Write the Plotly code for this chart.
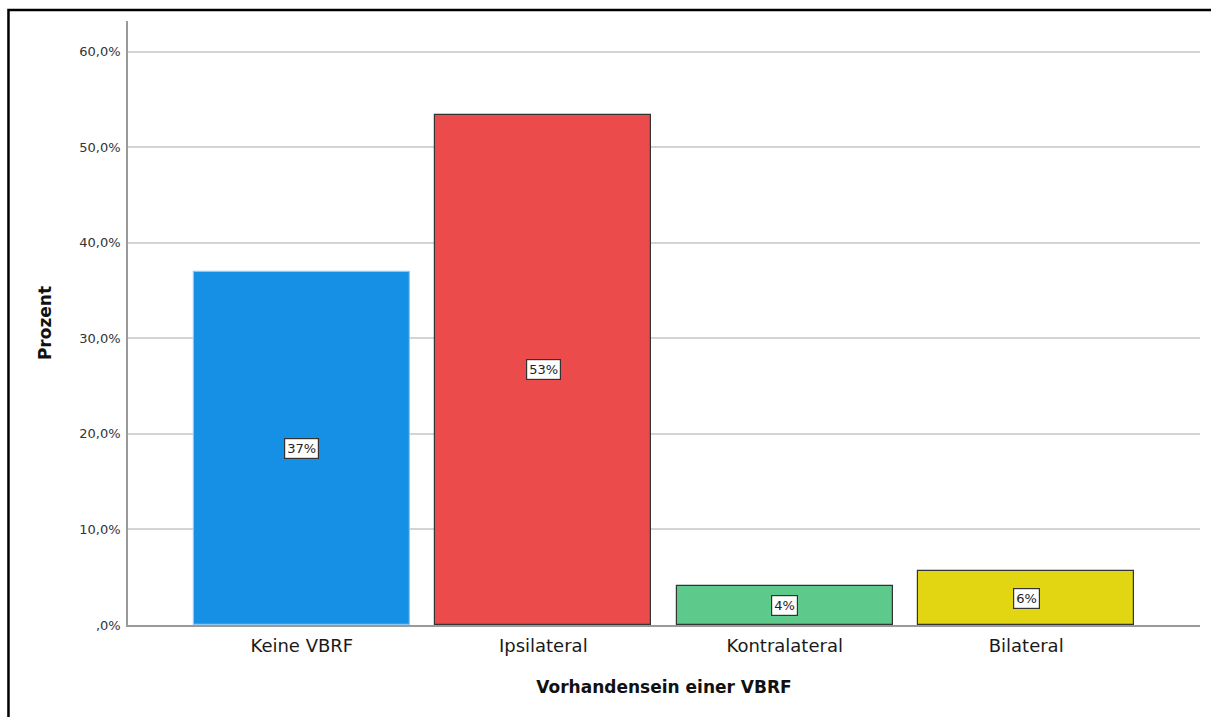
import plotly.graph_objects as go

categories = ["Keine VBRF", "Ipsilateral", "Kontralateral", "Bilateral"]
percent = [36.9, 53.4, 4.1, 5.6]
bar_colors = ["#1590e5", "#ec4b4c", "#5dc98b", "#e2d612"]
edge_colors = ["#8cc8f2", "#333333", "#333333", "#333333"]
tick_values = [0, 10, 20, 30, 40, 50, 60]
tick_labels = [",0%", "10,0%", "20,0%", "30,0%", "40,0%", "50,0%", "60,0%"]

font_family = "DejaVu Sans, Verdana, sans-serif"

fig = go.Figure()
fig.add_trace(go.Bar(
    x=list(range(len(categories))),
    y=percent,
    width=0.895,
    marker=dict(color=bar_colors, line=dict(color=edge_colors, width=1.2)),
    hoverinfo="skip",
))

# value labels centred inside each bar
for i, v in enumerate(percent):
    fig.add_annotation(
        x=i, y=v / 2, text=f"{round(v)}%", showarrow=False,
        font=dict(family=font_family, size=13, color="#222222"),
        bgcolor="white", bordercolor="#333333", borderwidth=1.2, borderpad=2,
    )

fig.update_layout(
    width=1211, height=717,
    margin=dict(l=128, r=11, t=21, b=92),
    paper_bgcolor="white", plot_bgcolor="white",
    showlegend=False,
    font=dict(family=font_family),
    bargap=0,
    xaxis=dict(
        range=[-0.72, 3.72],
        tickmode="array", tickvals=list(range(len(categories))), ticktext=categories,
        tickfont=dict(size=18, color="#1a1a1a"),
        ticklabelstandoff=4,
        showgrid=False, zeroline=False,
        showline=True, linecolor="#9a9a9a", linewidth=1.5,
        ticks="", ticklen=0,
        title=dict(text="<b>Vorhandensein einer VBRF</b>",
                   font=dict(size=17, color="#111111"), standoff=26),
    ),
    yaxis=dict(
        range=[0, 63.2],
        tickmode="array", tickvals=tick_values, ticktext=tick_labels,
        tickfont=dict(size=13, color="#333333"),
        ticklabelstandoff=3,
        showgrid=True, gridcolor="#d4d4d4", gridwidth=1.5,
        zeroline=False,
        showline=True, linecolor="#9a9a9a", linewidth=1.5,
        ticks="", ticklen=0,
        title=dict(text="<b>Prozent</b>", font=dict(size=17, color="#111111"), standoff=23),
    ),
)

# outer frame around the chart
fig.add_shape(
    type="rect", xref="paper", yref="paper",
    x0=-0.1115, x1=1.03, y0=-0.25, y1=1.0182,
    line=dict(color="black", width=2.5), fillcolor="rgba(0,0,0,0)",
    layer="above",
)

fig.write_html("out.html")
